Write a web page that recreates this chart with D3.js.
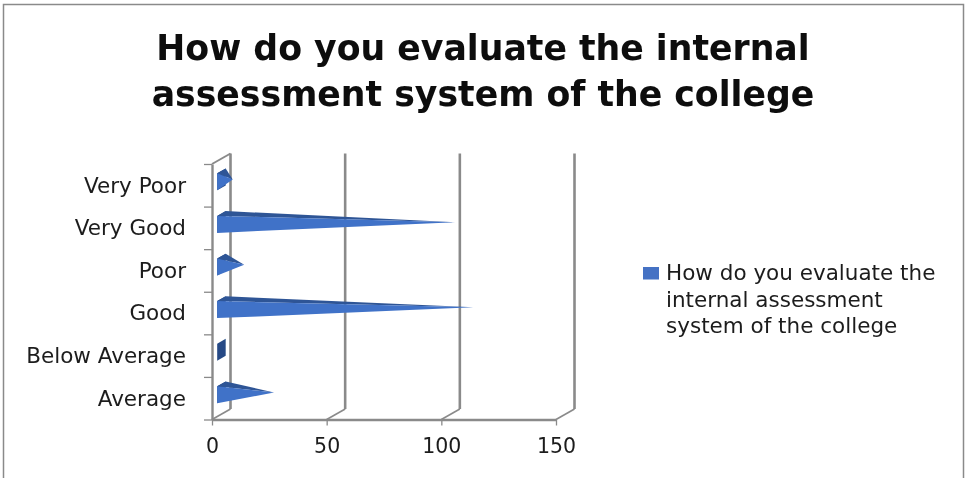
<!DOCTYPE html>
<html><head><meta charset="utf-8">
<script src="https://cdn.jsdelivr.net/npm/d3@7"></script>
<style>
html,body{margin:0;padding:0;background:#fff}
svg{display:block}
text{font-family:"DejaVu Sans",sans-serif;fill:#1c1c1c}
</style></head><body><svg id="c" width="965" height="478"></svg>
<script>
const categories = ["Average","Below Average","Good","Poor","Very Good","Very Poor"];
const values = [23,0,110,10,102,5];
const xTicks = [0,50,100,150];
const titleLines = ["How do you evaluate the internal","assessment system of the college"];
const legendLines = ["How do you evaluate the","internal assessment","system of the college"];

const svg = d3.select("#c");
const W=965;
const plot={left:212,right:556,top:164,bottom:419.5};
const depth={x:18.5,y:-10.5};
const x=d3.scaleLinear().domain([0,150]).range([plot.left,plot.right]);
const yBand=d3.scaleBand().domain(categories).range([plot.bottom,plot.top]);
const yEdge=d3.scaleLinear().domain([0,categories.length]).range([plot.bottom,plot.top]);
const P=(v,y,z)=>[x(v)+depth.x*z,y+depth.y*z];
const grey="#8a8a8a";
const defs=svg.append("defs");
defs.append("filter").attr("id","soft").append("feGaussianBlur").attr("stdDeviation",0.45);
const g=svg.append("g").attr("filter","url(#soft)");

// frame
g.append("path").attr("d",`M3.5,478V4.5H${W-1.5}V478`).attr("fill","none").attr("stroke",grey).attr("stroke-width",1.5);

// title
g.selectAll("text.title").data(titleLines).join("text").attr("class","title")
 .attr("x",483).attr("y",(d,i)=>60+i*46).attr("text-anchor","middle")
 .style("font-weight",700).style("font-size","34.7px").style("fill","#0a0a0a").text(d=>d);

// walls
const wall=g.append("g").attr("fill","none").attr("stroke",grey);
wall.selectAll("line.grid").data(xTicks).join("line").attr("class","grid")
 .attr("x1",d=>P(d,0,1)[0]).attr("x2",d=>P(d,0,1)[0])
 .attr("y1",P(0,plot.top,1)[1]).attr("y2",P(0,plot.bottom,1)[1]).attr("stroke-width",2.6);
wall.selectAll("line.floor").data(xTicks).join("line").attr("class","floor")
 .attr("x1",d=>x(d)).attr("y1",plot.bottom)
 .attr("x2",d=>P(d,plot.bottom,1)[0]).attr("y2",d=>P(d,plot.bottom,1)[1]).attr("stroke-width",1.6);
wall.append("line").attr("x1",x(0)).attr("y1",plot.top)
 .attr("x2",P(0,plot.top,1)[0]).attr("y2",P(0,plot.top,1)[1]).attr("stroke-width",2);

// axes
const ax=d3.axisBottom(x).tickValues(xTicks).tickSize(6).tickPadding(13).tickSizeOuter(0);
const axG=g.append("g").attr("transform",`translate(0,${plot.bottom})`).call(ax);
const ay=d3.axisLeft(yEdge).ticks(categories.length).tickFormat("").tickSize(8).tickSizeOuter(0);
const ayG=g.append("g").attr("transform",`translate(${plot.left},0)`).call(ay);
const al=d3.axisLeft(yBand).tickSize(0).tickPadding(26).tickSizeOuter(0);
const alG=g.append("g").attr("transform",`translate(${plot.left},0)`).call(al);
alG.select(".domain").remove();
[axG,ayG].forEach(a=>{a.selectAll("line").attr("stroke",grey).attr("stroke-width",1.3);
 a.select(".domain").attr("stroke",grey).attr("stroke-width",2.4);});
axG.selectAll("text").style("font-size","20.5px").style("font-family","'DejaVu Sans',sans-serif");
alG.selectAll("text").style("font-size","21.5px").style("font-family","'DejaVu Sans',sans-serif").attr("dy","0.34em");

// pyramids
const half=8.5, zf=0.28, zb=0.74, za=0.5;
const bars=g.append("g").selectAll("g").data(categories.map((c,i)=>({c,v:values[i]}))).join("g");
const pts=d=>{const yc=yBand(d.c)+yBand.bandwidth()/2-0.5;
 return {ft:P(0,yc-half,zf),fb:P(0,yc+half,zf),bt:P(0,yc-half,zb),bb:P(0,yc+half,zb),a:P(d.v,yc,za)};};
bars.append("polygon").attr("fill","#254a85")
 .attr("points",d=>{const p=pts(d);return [p.ft,p.bt,p.bb,p.fb].join(" ");});
bars.filter(d=>d.v>0).append("polygon").attr("fill","#2f5596")
 .attr("points",d=>{const p=pts(d);return [p.ft,p.bt,p.a].join(" ");});
bars.filter(d=>d.v>0).append("polygon").attr("fill","#4072c8")
 .attr("points",d=>{const p=pts(d);return [p.ft,p.fb,p.a].join(" ");});

// legend
const lg=g.append("g");
lg.append("rect").attr("x",643).attr("y",267).attr("width",16).attr("height",12.5).attr("fill","#4472c4");
lg.selectAll("text").data(legendLines).join("text").attr("x",666).attr("y",(d,i)=>280+i*26.5)
 .style("font-size","21.5px").text(d=>d);
</script></body></html>
